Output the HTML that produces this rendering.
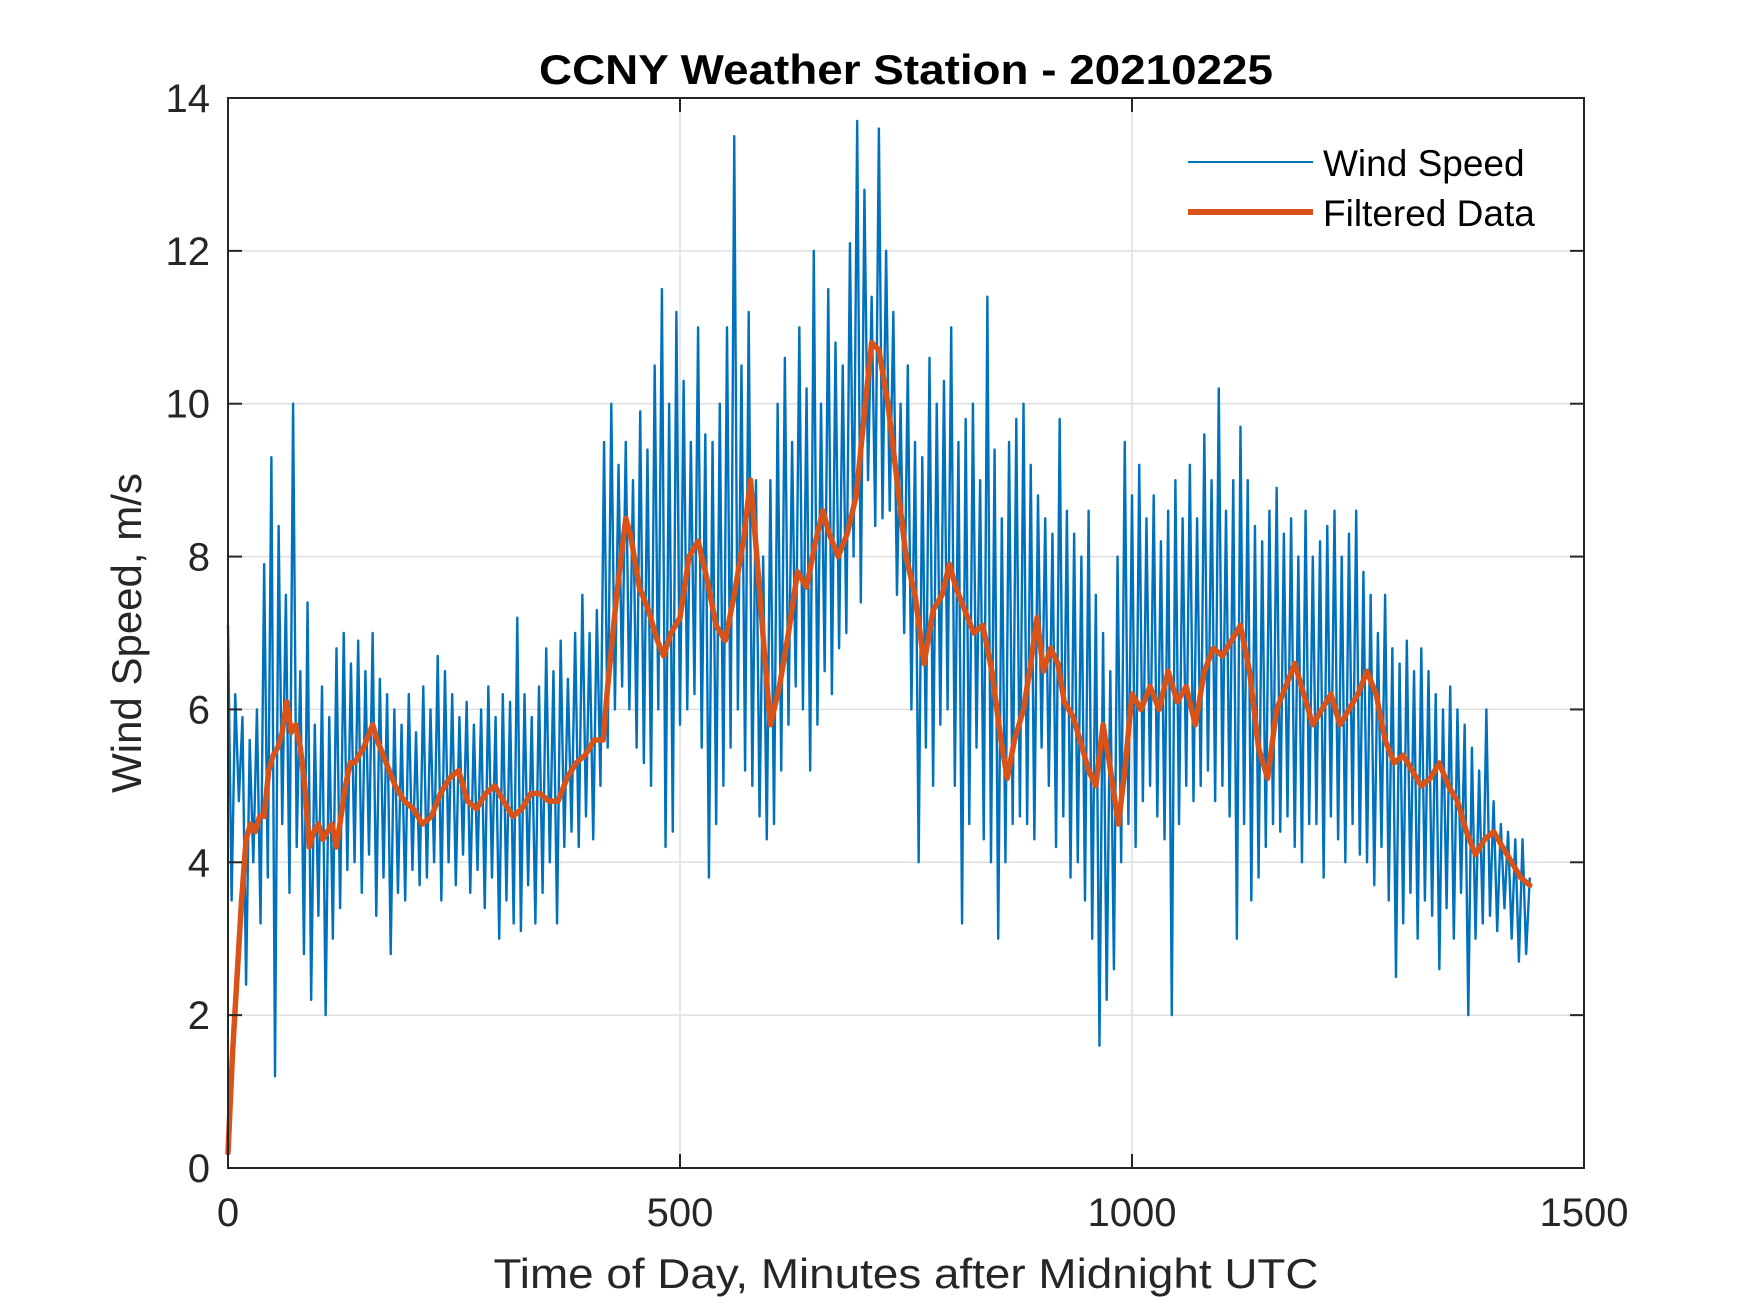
<!DOCTYPE html>
<html><head><meta charset="utf-8"><style>
html,body{margin:0;padding:0;background:#fff}
svg{display:block}
text{font-family:"Liberation Sans",Arial,sans-serif}
</style></head><body>
<svg id="chart" width="1750" height="1313" viewBox="0 0 1750 1313" xmlns="http://www.w3.org/2000/svg">
<rect x="0" y="0" width="1750" height="1313" fill="#fff"/>
<rect x="228" y="98" width="1356" height="1070" fill="#fff"/>
<g id="grid"></g>
<g id="series"></g>
<rect x="228" y="98" width="1356" height="1070" fill="none" stroke="#262626" stroke-width="2"/>
<g id="ticks"></g>
<text x="906" y="84" text-anchor="middle" font-size="42" font-weight="bold" fill="#000" textLength="734" lengthAdjust="spacingAndGlyphs">CCNY Weather Station - 20210225</text>
<text x="906" y="1288" text-anchor="middle" font-size="42" fill="#262626" textLength="825" lengthAdjust="spacingAndGlyphs">Time of Day, Minutes after Midnight UTC</text>
<text x="0" y="0" transform="translate(141,633) rotate(-90)" text-anchor="middle" font-size="42" fill="#262626">Wind Speed, m/s</text>
<g>
<rect x="1175" y="128" width="390" height="112" fill="#fff"/>
<line x1="1188" y1="162" x2="1313" y2="162" stroke="#0072BD" stroke-width="2"/>
<text x="1323" y="176" font-size="37" fill="#000">Wind Speed</text>
<line x1="1188" y1="212" x2="1313" y2="212" stroke="#D95319" stroke-width="6"/>
<text x="1323" y="226" font-size="37" fill="#000">Filtered Data</text>
</g>
</svg>
<script>
const xTicks = [0, 500, 1000, 1500];
const yTicks = [0, 2, 4, 6, 8, 10, 12, 14];
const windStep = 4;
const windSpeed = [
7.1,3.5,6.2,4.8,5.9,2.4,5.6,4.0,6.0,3.2,
7.9,3.8,9.3,1.2,8.4,4.5,7.5,3.6,10.0,4.2,
6.5,2.8,7.4,2.2,5.8,3.3,6.3,2.0,5.9,3.0,
6.8,3.4,7.0,3.9,6.6,4.0,6.9,3.6,6.5,4.1,
7.0,3.3,6.4,3.8,6.2,2.8,6.0,3.6,5.8,3.5,
6.2,3.9,5.7,3.7,6.3,3.8,6.0,4.0,6.7,3.5,
6.5,4.0,6.2,3.7,5.9,4.1,6.1,3.6,5.8,3.9,
6.0,3.4,6.3,3.8,5.9,3.0,6.2,3.5,6.1,3.2,
7.2,3.1,6.2,3.7,5.9,3.2,6.3,3.6,6.8,4.0,
6.5,3.2,6.9,4.2,6.4,4.4,7.0,4.2,7.5,4.6,
7.0,4.3,7.3,5.0,9.5,5.5,10.0,6.0,9.2,6.3,
9.5,6.0,9.0,5.5,9.9,5.3,9.4,5.0,10.5,6.0,
11.5,4.2,10.0,4.4,11.2,5.8,10.3,6.0,9.5,6.2,
11.0,5.5,9.6,3.8,9.5,4.5,10.0,5.0,11.0,5.5,
13.5,6.0,10.5,5.2,11.2,5.0,9.0,4.6,8.0,4.3,
9.0,4.5,10.0,5.2,10.6,5.8,9.5,6.3,11.0,6.0,
10.2,5.2,12.0,5.8,10.0,6.5,11.5,6.2,10.8,6.8,
10.5,7.0,12.1,8.0,13.7,7.4,12.8,9.0,11.4,8.4,
13.6,8.5,12.0,8.6,11.2,7.5,10.0,7.0,10.5,6.0,
9.5,4.0,9.3,5.5,10.6,5.0,10.0,5.8,10.3,6.0,
11.0,5.0,9.5,3.2,9.8,4.5,10.0,5.5,9.0,4.3,
11.4,4.0,9.4,3.0,8.5,4.0,9.5,4.5,9.8,4.6,
10.0,4.5,9.2,4.3,8.8,5.5,8.5,5.0,8.3,4.2,
9.8,4.6,8.6,3.8,8.3,4.0,8.0,3.5,8.6,3.0,
7.5,1.6,7.0,2.2,6.5,2.6,8.0,4.0,9.5,4.5,
8.8,4.2,9.2,4.8,8.5,5.0,8.8,4.6,8.2,4.3,
8.6,2.0,9.0,4.5,8.5,5.0,9.2,4.8,8.5,5.0,
9.6,5.2,9.0,4.8,10.2,5.0,8.6,4.6,9.0,3.0,
9.7,4.5,9.0,3.5,8.4,3.8,8.2,4.2,8.6,4.5,
8.9,4.4,8.3,4.6,8.5,4.2,8.0,4.0,8.6,4.5,
8.0,4.5,8.2,3.8,8.4,4.6,8.6,4.3,8.0,4.0,
8.3,4.5,8.6,4.1,7.8,4.0,7.5,3.7,7.0,4.2,
7.5,3.5,6.8,2.5,6.6,3.2,6.9,3.6,6.5,3.0,
6.8,3.5,6.5,3.3,6.2,2.6,6.0,3.4,6.3,3.0,
6.0,3.6,5.8,2.0,5.5,3.0,5.2,3.2,6.0,3.3,
4.8,3.1,4.5,3.4,4.4,3.0,4.3,2.7,4.3,2.8,
3.8
];
const filtMinutes = [0,5,10,15,20,25,30,35,40,45,50,55,60,65,70,75,80,85,90,95,100,105,110,115,120,125,130,135,140,145,150,160,165,175,185,195,205,215,225,235,245,255,265,275,285,295,305,315,325,335,345,355,365,375,385,395,405,415,420,430,440,445,455,465,475,482,490,500,510,520,530,540,550,560,570,578,585,595,600,610,620,630,640,650,658,665,675,685,695,705,712,720,730,740,750,760,770,780,790,798,805,815,825,835,845,855,862,870,880,888,895,902,910,918,925,935,945,952,960,968,975,985,992,1000,1010,1020,1030,1040,1050,1060,1070,1080,1090,1100,1110,1120,1130,1140,1150,1160,1170,1180,1190,1200,1210,1220,1230,1240,1250,1260,1270,1280,1290,1300,1310,1320,1330,1340,1350,1360,1370,1380,1390,1400,1410,1420,1430,1440];
const filtValues = [0.2,1.5,2.5,3.5,4.3,4.5,4.4,4.6,4.6,5.2,5.4,5.5,5.7,6.1,5.7,5.8,5.5,5.0,4.2,4.4,4.5,4.3,4.4,4.5,4.2,4.6,5.0,5.3,5.3,5.4,5.5,5.8,5.6,5.3,5.0,4.8,4.7,4.5,4.6,4.9,5.1,5.2,4.8,4.7,4.9,5.0,4.8,4.6,4.7,4.9,4.9,4.8,4.8,5.1,5.3,5.4,5.6,5.6,6.3,7.5,8.5,8.3,7.6,7.3,6.9,6.7,7.0,7.2,8.0,8.2,7.7,7.1,6.9,7.5,8.2,9.0,8.0,6.5,5.8,6.3,7.0,7.8,7.6,8.2,8.6,8.3,8.0,8.3,8.8,10.0,10.8,10.7,10.0,9.0,8.0,7.5,6.6,7.3,7.5,7.9,7.6,7.3,7.0,7.1,6.5,5.6,5.1,5.6,6.0,6.6,7.2,6.5,6.8,6.6,6.1,5.9,5.5,5.2,5.0,5.8,5.3,4.5,5.2,6.2,6.0,6.3,6.0,6.5,6.1,6.3,5.8,6.5,6.8,6.7,6.9,7.1,6.5,5.5,5.1,6.0,6.3,6.6,6.2,5.8,6.0,6.2,5.8,6.0,6.2,6.5,6.2,5.6,5.3,5.4,5.2,5.0,5.1,5.3,5.0,4.8,4.4,4.1,4.3,4.4,4.2,4.0,3.8,3.7];

const NS = 'http://www.w3.org/2000/svg';
const L = 228, R = 1584, T = 98, B = 1168;
function xs(v){ return L + (v - 0) / 1500 * (R - L); }
function ys(v){ return B - (v - 0) / 14 * (B - T); }
function mk(tag, attrs, parent){ const e = document.createElementNS(NS, tag); for (const k in attrs) e.setAttribute(k, attrs[k]); parent.appendChild(e); return e; }

const grid = document.getElementById('grid');
const ticks = document.getElementById('ticks');
const series = document.getElementById('series');

xTicks.forEach(function(t){
  const x = xs(t);
  if (t > 0 && t < 1500) {
    const g = mk('line', {x1:x, y1:T, x2:x, y2:B, stroke:'#dfdfdf', 'stroke-width':1.5}, grid);
    
    
  }
  const a = mk('line', {x1:x, y1:B, x2:x, y2:B-14, stroke:'#262626', 'stroke-width':2}, ticks);
  
  
  const b = mk('line', {x1:x, y1:T, x2:x, y2:T+14, stroke:'#262626', 'stroke-width':2}, ticks);
  
  
  const lb = mk('text', {x:x, y:1226, 'text-anchor':'middle', 'font-size':40, fill:'#262626'}, ticks);
  lb.textContent = String(t);
  
  
});
yTicks.forEach(function(t){
  const y = ys(t);
  if (t > 0 && t < 14) {
    const g = mk('line', {x1:L, y1:y, x2:R, y2:y, stroke:'#dfdfdf', 'stroke-width':1.5}, grid);
    
    
  }
  const a = mk('line', {x1:L, y1:y, x2:L+14, y2:y, stroke:'#262626', 'stroke-width':2}, ticks);
  
  
  const b = mk('line', {x1:R, y1:y, x2:R-14, y2:y, stroke:'#262626', 'stroke-width':2}, ticks);
  
  
  const lb = mk('text', {x:210, y:y+14, 'text-anchor':'end', 'font-size':40, fill:'#262626'}, ticks);
  lb.textContent = String(t);
  
  
});

let d1 = '';
windSpeed.forEach(function(v, i){ d1 += (i ? 'L' : 'M') + xs(i * windStep).toFixed(2) + ',' + ys(v).toFixed(2); });
const p1 = mk('path', {d:d1, fill:'none', stroke:'#0072BD', 'stroke-width':2.4, 'stroke-linejoin':'round'}, series);



let d2 = '';
filtValues.forEach(function(v, i){ d2 += (i ? 'L' : 'M') + xs(filtMinutes[i]).toFixed(2) + ',' + ys(v).toFixed(2); });
const p2 = mk('path', {d:d2, fill:'none', stroke:'#D95319', 'stroke-width':5.5, 'stroke-linejoin':'round', 'stroke-linecap':'round'}, series);


</script>
</body></html>
